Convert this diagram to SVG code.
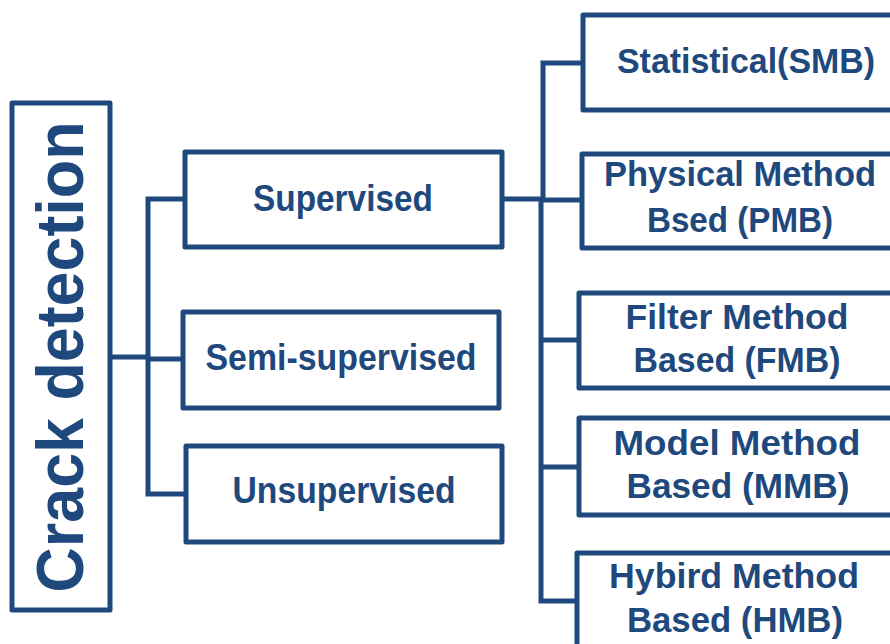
<svg xmlns="http://www.w3.org/2000/svg" width="890" height="644" viewBox="0 0 890 644">
  <style>
    .box { fill: #ffffff; stroke: #1F497D; stroke-width: 5; stroke-linejoin: round; }
    .wire { fill: none; stroke: #1F497D; stroke-width: 5; stroke-linejoin: miter; }
    .lbl { font-family: "Liberation Sans", Arial, sans-serif; font-weight: bold; fill: #1F497D; text-anchor: middle; }
    .l2 { font-size: 37px; }
    .l3 { font-size: 35px; }
  </style>
  <rect width="890" height="644" fill="#ffffff"/>

  <!-- connectors -->
  <g id="connectors">
    <!-- root to first level -->
    <path class="wire" d="M110 357 H148"/>
    <path class="wire" d="M185 199 H148 V494 H186"/>
    <path class="wire" d="M148 359 H183"/>
    <!-- Supervised to methods -->
    <path class="wire" d="M502 199 H541"/>
    <path class="wire" d="M583 63 H543 V200"/>
    <path class="wire" d="M541 200 V601 H577"/>
    <path class="wire" d="M541 200 H582"/>
    <path class="wire" d="M539 340 H579"/>
    <path class="wire" d="M539 467 H579"/>
  </g>

  <g id="crack-detection">
    <rect class="box" x="12" y="103" width="98" height="507"/>
    <text class="lbl" font-size="67" transform="translate(83 357) rotate(-90)" textLength="471" lengthAdjust="spacingAndGlyphs">Crack detection</text>
  </g>

  <g id="supervised">
    <rect class="box" x="185" y="152" width="317" height="95"/>
    <text class="lbl l2" x="343" y="211" textLength="180" lengthAdjust="spacingAndGlyphs">Supervised</text>
  </g>

  <g id="semi-supervised">
    <rect class="box" x="183" y="312" width="316" height="96"/>
    <text class="lbl l2" x="341" y="370" textLength="271" lengthAdjust="spacingAndGlyphs">Semi-supervised</text>
  </g>

  <g id="unsupervised">
    <rect class="box" x="186" y="446" width="316" height="96"/>
    <text class="lbl l2" x="344" y="503" textLength="223" lengthAdjust="spacingAndGlyphs">Unsupervised</text>
  </g>

  <g id="smb">
    <rect class="box" x="583" y="15" width="330" height="95"/>
    <text class="lbl l3" x="746" y="73" textLength="258" lengthAdjust="spacingAndGlyphs">Statistical(SMB)</text>
  </g>

  <g id="pmb">
    <rect class="box" x="582" y="154" width="330" height="94"/>
    <text class="lbl l3" x="740" y="186" textLength="272" lengthAdjust="spacingAndGlyphs">Physical Method</text>
    <text class="lbl l3" x="740" y="232" textLength="186" lengthAdjust="spacingAndGlyphs">Bsed (PMB)</text>
  </g>

  <g id="fmb">
    <rect class="box" x="579" y="293" width="330" height="95"/>
    <text class="lbl l3" x="737" y="329" textLength="223" lengthAdjust="spacingAndGlyphs">Filter Method</text>
    <text class="lbl l3" x="737" y="372" textLength="207" lengthAdjust="spacingAndGlyphs">Based (FMB)</text>
  </g>

  <g id="mmb">
    <rect class="box" x="579" y="418" width="330" height="97"/>
    <text class="lbl l3" x="737" y="455" textLength="247" lengthAdjust="spacingAndGlyphs">Model Method</text>
    <text class="lbl l3" x="738" y="498" textLength="223" lengthAdjust="spacingAndGlyphs">Based (MMB)</text>
  </g>

  <g id="hmb">
    <rect class="box" x="577" y="553" width="330" height="120"/>
    <text class="lbl l3" x="734" y="588" textLength="250" lengthAdjust="spacingAndGlyphs">Hybird Method</text>
    <text class="lbl l3" x="735" y="632" textLength="216" lengthAdjust="spacingAndGlyphs">Based (HMB)</text>
  </g>
</svg>
